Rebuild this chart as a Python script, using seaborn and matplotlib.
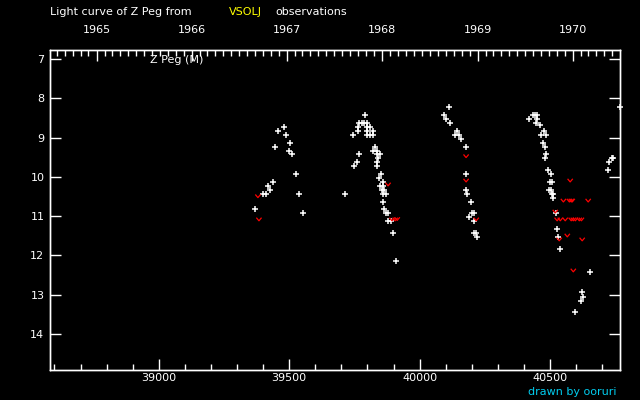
import numpy as np
import pandas as pd
import seaborn as sns
import matplotlib
matplotlib.use("Agg")
import matplotlib.pyplot as plt
from matplotlib.path import Path
from matplotlib.ticker import MultipleLocator

# Z Peg visual estimates, JD - 2400000 and magnitude
obs_jd = [39369, 39399, 39411, 39419, 39426, 39438, 39445, 39457, 39479, 39488,
          39499, 39503, 39511, 39526, 39538, 39553,
          39714, 39745, 39749, 39760, 39764, 39764, 39768, 39768, 39778, 39788,
          39791, 39798, 39798, 39798, 39798, 39810, 39810, 39821, 39821, 39821,
          39829, 39837, 39837, 39837, 39837, 39841, 39845, 39848, 39848, 39852,
          39856, 39860, 39860, 39860, 39860, 39864, 39864, 39871, 39871, 39879,
          39879, 39891, 39898, 39910,
          40094, 40102, 40113, 40117, 40136, 40144, 40152, 40159, 40178, 40178,
          40178, 40182, 40190, 40198, 40201, 40209, 40209, 40209, 40217, 40221,
          40420, 40435, 40443, 40447, 40451, 40451, 40462, 40466, 40474, 40478,
          40481, 40481, 40485, 40485, 40493, 40497, 40501, 40504, 40504, 40508,
          40508, 40512, 40512, 40524, 40527, 40531, 40539, 40597, 40620, 40623,
          40627, 40654,
          40723, 40727, 40739, 40742, 40768]
obs_mag = [10.83, 10.44, 10.44, 10.24, 10.34, 10.14, 9.24, 8.84, 8.73, 8.94,
           9.35, 9.14, 9.42, 9.93, 10.44, 10.93,
           10.44, 8.94, 9.73, 9.63, 8.73, 8.84, 8.63, 9.42, 8.63, 8.63,
           8.43, 8.63, 8.73, 8.84, 8.94, 8.73, 8.94, 8.84, 8.94, 9.35,
           9.24, 9.35, 9.42, 9.63, 9.73, 9.53, 10.04, 9.42, 10.24, 9.93,
           10.34, 10.14, 10.24, 10.44, 10.65, 10.34, 10.83, 10.44, 10.93, 10.93,
           11.13, 11.13, 11.44, 12.15,
           8.43, 8.53, 8.22, 8.63, 8.94, 8.84, 8.94, 9.04, 9.24, 9.93,
           10.34, 10.44, 11.03, 10.65, 10.93, 10.93, 11.13, 11.44, 11.44, 11.54,
           8.53, 8.43, 8.43, 8.63, 8.43, 8.53, 8.68, 8.94, 9.14, 8.84,
           9.24, 9.53, 8.94, 9.42, 9.83, 10.34, 10.14, 9.93, 10.34, 10.14,
           10.44, 10.44, 10.55, 10.93, 11.34, 11.54, 11.85, 13.45, 13.15, 12.94,
           13.05, 12.43,
           9.83, 9.63, 9.53, 9.53, 8.22]

# "fainter than" estimates
faint_jd = [39380, 39384, 39879, 39894, 39906, 39914, 40178, 40178, 40217,
            40520, 40527, 40535, 40539, 40551, 40558, 40566, 40574, 40577, 40581,
            40581, 40585, 40589, 40589, 40597, 40612, 40620, 40623, 40646]
faint_mag = [10.49, 11.08, 10.19, 11.08, 11.08, 11.07, 9.47, 10.09, 11.08,
             10.88, 11.08, 11.59, 11.08, 10.60, 11.08, 11.49, 10.60, 10.09, 10.60,
             11.08, 10.60, 11.08, 12.38, 11.08, 11.08, 11.08, 11.59, 10.60]

years = [1965, 1966, 1967, 1968, 1969, 1970]

sns.set_theme(style="ticks", rc={
    "figure.facecolor": "black", "axes.facecolor": "black",
    "axes.edgecolor": "white", "text.color": "white",
    "xtick.color": "white", "ytick.color": "white",
    "axes.linewidth": 1.0,
})
plt.rcParams["font.family"] = ["DejaVu Sans"]

fig = plt.figure(figsize=(6.4, 4), dpi=100)
ax = fig.add_axes([50/640, 30/400, 570/640, 320/400])

df_obs = pd.DataFrame({"jd": obs_jd, "mag": obs_mag})
df_faint = pd.DataFrame({"jd": faint_jd, "mag": faint_mag})

sns.scatterplot(data=df_obs, x="jd", y="mag", marker="+", color="white",
                s=16, linewidth=1.1, ax=ax, clip_on=False, zorder=3)
vmark = Path([(-1, 0.6), (0, -0.6), (1, 0.6)], [Path.MOVETO, Path.LINETO, Path.LINETO])
sns.scatterplot(data=df_faint, x="jd", y="mag", marker=vmark, color="red",
                facecolor="none", edgecolor="red", s=14, linewidth=0.9, ax=ax, zorder=3)

ax.set_xlim(38583, 40768)
ax.set_ylim(14.92, 6.77)
ax.set_xlabel("")
ax.set_ylabel("")
ax.xaxis.set_major_locator(MultipleLocator(500))
ax.xaxis.set_minor_locator(MultipleLocator(100))
ax.set_yticks(range(7, 15))
ax.tick_params(which="both", direction="in", top=False, right=True,
               labelsize=8, colors="white")
ax.tick_params(which="major", length=8, width=1, pad=4)
ax.tick_params(axis="x", which="major", pad=2)
ax.tick_params(which="minor", length=4, width=1)
ax.tick_params(axis="y", which="minor", left=False, right=False)

# calendar years along the top
axt = ax.twiny()
axt.set_xlim(ax.get_xlim())
year_pos = [pd.Timestamp(f"{y}-01-01").to_julian_date() - 2400000 for y in years]
month_pos = [d.to_julian_date() - 2400000 for d in pd.date_range("1964-08-01", "1970-06-01", freq="MS")]
axt.set_xticks(year_pos)
axt.set_xticklabels([str(y) for y in years])
axt.set_xticks(month_pos, minor=True)
axt.tick_params(which="both", direction="in", labelsize=8, colors="white")
axt.tick_params(which="major", length=8, width=1, pad=11)
axt.tick_params(which="minor", length=4, width=1)
for s in axt.spines.values():
    s.set_color("white")

fig.text(50/640, 1 - 12/400, "Light curve of Z Peg from", fontsize=8, va="center", color="white")
fig.text(229/640, 1 - 12/400, "VSOLJ", fontsize=8, va="center", color="yellow")
fig.text(275/640, 1 - 12/400, "observations", fontsize=8, va="center", color="white")
fig.text(150/640, 1 - 60/400, "Z Peg (M)", fontsize=8, va="center", color="white")
fig.text(617/640, 1 - 392/400, "drawn by ooruri", fontsize=8, va="center", ha="right", color="#00ccee")

fig.savefig("out.png", dpi=100, facecolor="black")
